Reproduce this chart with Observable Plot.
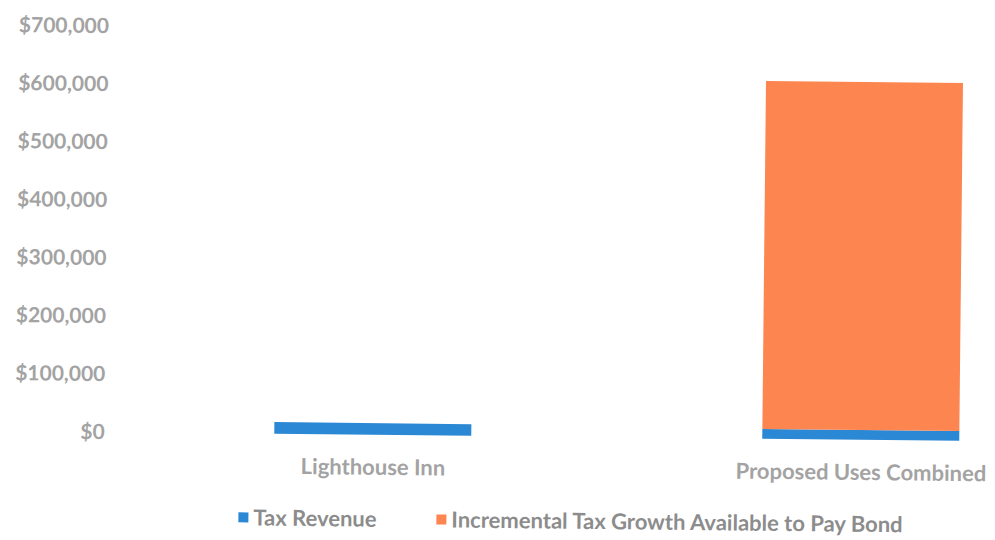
<!DOCTYPE html>
<html>
<head>
<meta charset="utf-8">
<script src="https://cdn.jsdelivr.net/npm/d3@7"></script>
<script src="https://cdn.jsdelivr.net/npm/@observablehq/plot@0.6"></script>
<style>
  html, body { margin: 0; padding: 0; background: #fff; }
  #wrap { width: 995px; height: 540px; position: relative; overflow: hidden;
          transform: rotate(0.6deg); transform-origin: 497px 270px; font-family: Lato, sans-serif; }
  #legend { position: absolute; top: 495px; left: 0; width: 995px; height: 45px; }
  .item { position: absolute; top: 11px; display: flex; align-items: center; font-size: 22px; font-weight: bold; color: #8c8c8c; }
  .sw { width: 10px; height: 10px; margin-right: 5px; }
  #chart svg text { font-weight: bold; }
</style>
</head>
<body>
<div id="wrap">
  <div id="chart"></div>
  <div id="legend"></div>
</div>
<script>
const categories = ["Lighthouse Inn", "Proposed Uses Combined"];
const seriesNames = ["Tax Revenue", "Incremental Tax Growth Available to Pay Bond"];
const taxRevenue = [20000, 17000];
const incrementalGrowth = [0, 600000];
const yTicks = [0, 100000, 200000, 300000, 400000, 500000, 600000, 700000];
const colors = ["#2b88d4", "#fd8550"];

const rows = [];
categories.forEach((c, i) => {
  rows.push({category: c, series: seriesNames[0], value: taxRevenue[i]});
  rows.push({category: c, series: seriesNames[1], value: incrementalGrowth[i]});
});

const fmt = d3.format("$,.0f");

const chart = Plot.plot({
  width: 995,
  height: 495,
  marginTop: 30,
  marginBottom: 59,
  marginLeft: 120,
  marginRight: 0,
  style: {fontFamily: "Lato, sans-serif", fontSize: "20px", color: "#a3a3a3", background: "#fff"},
  x: {type: "band", domain: categories, range: [120, 1117.5], paddingInner: 0.597, paddingOuter: 0.3195, align: 0.5, label: null},
  y: {domain: [0, 700000], ticks: yTicks, label: null},
  color: {domain: seriesNames, range: colors},
  marks: [
    Plot.barY(rows, {x: "category", y: "value", fill: "series", order: null}),
    Plot.axisY({ticks: yTicks, tickFormat: fmt, tickSize: 0, tickPadding: 14, label: null, fontSize: 21}),
    Plot.axisX({tickSize: 0, tickPadding: 24, label: null, fontSize: 22})
  ]
});
document.getElementById("chart").appendChild(chart);

const legend = document.getElementById("legend");
const lefts = [241, 439];
seriesNames.forEach((s, i) => {
  const it = document.createElement("div");
  it.className = "item";
  it.style.left = lefts[i] + "px";
  const sw = document.createElement("span");
  sw.className = "sw";
  sw.style.background = colors[i];
  const tx = document.createElement("span");
  tx.textContent = s;
  it.appendChild(sw);
  it.appendChild(tx);
  legend.appendChild(it);
});
</script>
</body>
</html>
